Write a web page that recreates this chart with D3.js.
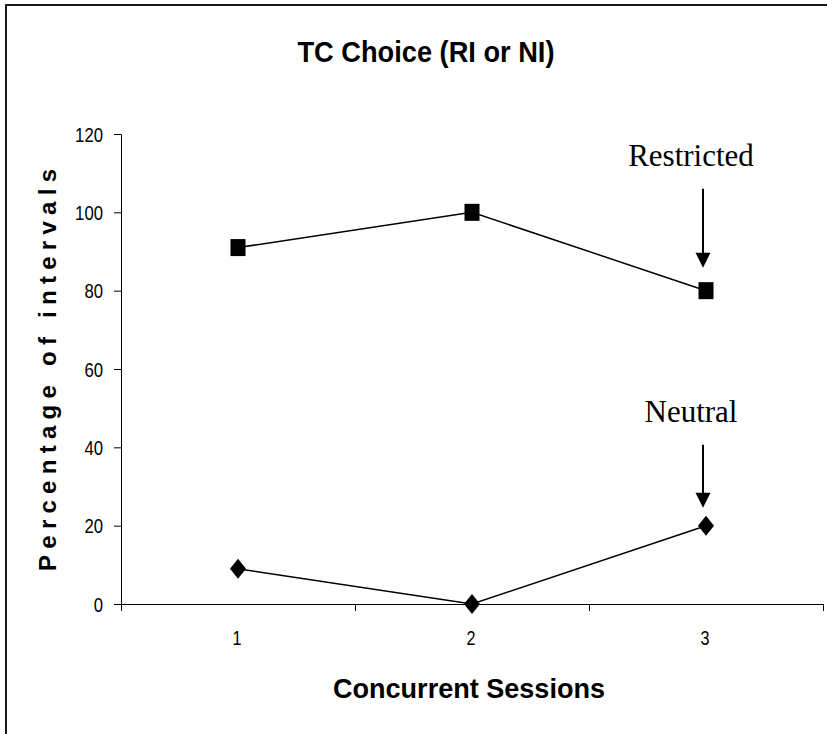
<!DOCTYPE html>
<html><head><meta charset="utf-8">
<script src="https://cdn.jsdelivr.net/npm/d3@7"></script>
<style>
html,body{margin:0;padding:0;background:#fff;}
svg{display:block;}
</style></head>
<body>
<svg id="chart" width="827" height="734"></svg>
<script>
const sessions = [1, 2, 3];
const restricted = [91, 100, 80];
const neutral = [9, 0, 20];
const yTicks = [0, 20, 40, 60, 80, 100, 120];
const xTickLabels = ["1", "2", "3"];
const annotations = ["Restricted", "Neutral"];
const annotationSession = [3, 3];
const annotationValue = [80, 20];

const svg = d3.select("#chart");

// outer frame
svg.append("rect").attr("x", 6).attr("y", 5).attr("width", 840).attr("height", 760)
  .attr("fill", "#fff").attr("stroke", "#000").attr("stroke-width", 1.8);

const x = d3.scaleLinear().domain([0.5, 3.5]).range([121, 823]);
const y = d3.scaleLinear().domain([0, 120]).range([604, 134]);

const sans = "'Liberation Sans', Arial, sans-serif";

// Y axis
const yAxis = svg.append("g").attr("transform", "translate(121,0)")
  .call(d3.axisLeft(y).tickValues(yTicks).tickSize(7).tickPadding(11).tickFormat(d3.format("d")));
yAxis.select(".domain").attr("stroke", "#000").attr("stroke-width", 1);
yAxis.selectAll(".tick line").attr("stroke", "#000");
yAxis.selectAll("text").attr("font-family", sans).attr("font-size", 20).attr("fill", "#000")
  .attr("dy", "0.36em")
  .attr("textLength", d => String(d).length * 9.3).attr("lengthAdjust", "spacingAndGlyphs");

// X axis (tick marks at category boundaries)
const xAxis = svg.append("g").attr("transform", "translate(0,604)")
  .call(d3.axisBottom(x).tickValues([0.5, 1.5, 2.5, 3.5]).tickSize(7).tickSizeOuter(7).tickFormat(""));
xAxis.select(".domain").attr("stroke", "#000").attr("stroke-width", 1);
xAxis.selectAll(".tick line").attr("stroke", "#000");

svg.append("g").selectAll("text").data(sessions).join("text")
  .attr("x", d => x(d) - 1).attr("y", 645)
  .attr("text-anchor", "middle")
  .attr("font-family", sans).attr("font-size", 21).attr("fill", "#000")
  .attr("textLength", 9).attr("lengthAdjust", "spacingAndGlyphs")
  .text((d, i) => xTickLabels[i]);

// lines
const line = d3.line().x((d, i) => x(sessions[i])).y(d => y(d));
svg.append("path").datum(restricted).attr("d", line)
  .attr("fill", "none").attr("stroke", "#000").attr("stroke-width", 1.5);
svg.append("path").datum(neutral).attr("d", line)
  .attr("fill", "none").attr("stroke", "#000").attr("stroke-width", 1.5);

// square markers
svg.append("g").selectAll("rect").data(restricted).join("rect")
  .attr("x", (d, i) => x(sessions[i]) - 7.5).attr("y", d => y(d) - 8.5)
  .attr("width", 15).attr("height", 17).attr("fill", "#000");

// diamond markers
svg.append("g").selectAll("path").data(neutral).join("path")
  .attr("d", (d, i) => {
    const cx = x(sessions[i]), cy = y(d);
    return `M${cx},${cy - 10}L${cx + 8},${cy}L${cx},${cy + 10}L${cx - 8},${cy}Z`;
  })
  .attr("fill", "#000");

// annotations with arrows
const arrowGap = [23, 18];
const arrowLen = [79, 63];
const textGap = [23, 23];
annotations.forEach((label, i) => {
  const ax = x(annotationSession[i]) - 3;
  const tip = y(annotationValue[i]) - arrowGap[i];
  const top = tip - arrowLen[i];
  svg.append("line").attr("x1", ax).attr("x2", ax).attr("y1", top).attr("y2", tip - 12)
    .attr("stroke", "#000").attr("stroke-width", 2);
  svg.append("path").attr("d", `M${ax - 7.5},${tip - 15}L${ax + 7.5},${tip - 15}L${ax},${tip}Z`)
    .attr("fill", "#000");
  svg.append("text").attr("x", ax - 12).attr("y", top - textGap[i])
    .attr("text-anchor", "middle")
    .attr("font-family", "'Liberation Serif', 'Times New Roman', serif")
    .attr("font-size", 31).attr("fill", "#000")
    .text(label);
});

// title
svg.append("text").attr("x", 426).attr("y", 62).attr("text-anchor", "middle")
  .attr("font-family", sans).attr("font-weight", "bold").attr("font-size", 29)
  .attr("textLength", 257).attr("lengthAdjust", "spacingAndGlyphs")
  .text("TC Choice (RI or NI)");

// x axis title
svg.append("text").attr("x", 469).attr("y", 698).attr("text-anchor", "middle")
  .attr("font-family", sans).attr("font-weight", "bold").attr("font-size", 28)
  .attr("textLength", 272).attr("lengthAdjust", "spacingAndGlyphs")
  .text("Concurrent Sessions");

// y axis title
svg.append("text").attr("transform", "translate(56,370) rotate(-90)")
  .attr("text-anchor", "middle")
  .attr("font-family", sans).attr("font-weight", "bold").attr("font-size", 24)
  .attr("textLength", 402).attr("lengthAdjust", "spacing")
  .text("Percentage of intervals");
</script>
</body></html>
